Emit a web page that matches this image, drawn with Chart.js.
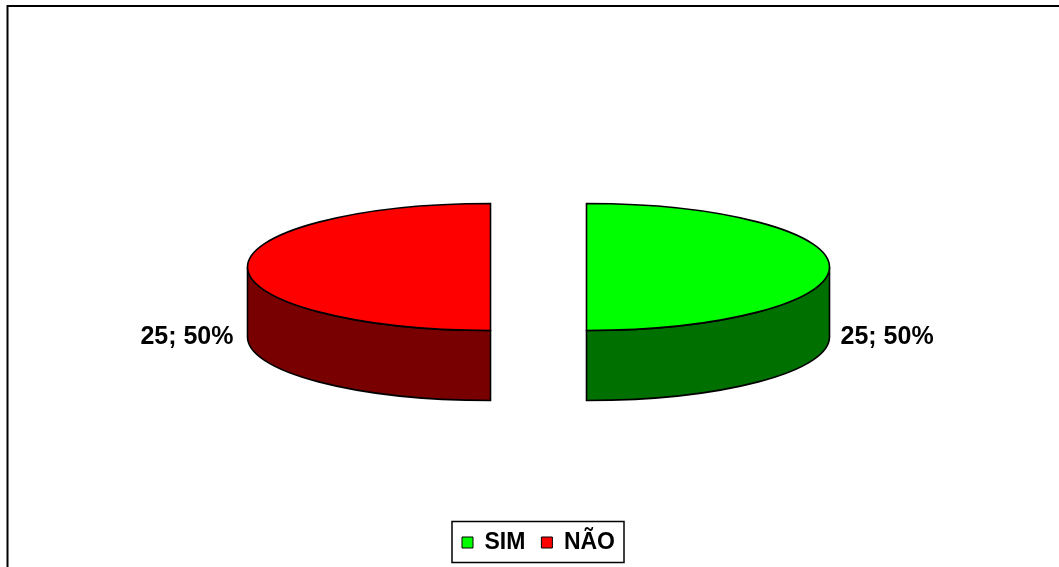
<!DOCTYPE html>
<html>
<head>
    <meta charset="utf-8">
    <title>SIM / NÃO</title>
    <script src="https://cdn.jsdelivr.net/npm/chart.js"></script>
    <style>
        body { margin: 0; background: #fff; }
        canvas { display: block; }
    </style>
</head>
<body>
    <canvas id="pieChart" width="1059" height="567"></canvas>
    <script>
        const categories = ['SIM', 'NÃO'];
        const counts = [25, 25];
        const topColors = ['#00ff00', '#ff0000'];
        const sideColors = ['#007000', '#780000'];

        // fake 3D: squash the pie vertically and extrude the front rim
        const tilt = 0.2613;
        const depth = 70;
        const explode = 48;
        const FONT = '"Liberation Sans", Arial, sans-serif';

        function arcGeometry(arc) {
            const p = arc.getProps(['x', 'y', 'startAngle', 'endAngle', 'outerRadius']);
            const mid = (p.startAngle + p.endAngle) / 2;
            const dx = Math.cos(mid) * explode;
            return {
                dx: dx,
                x: p.x + dx,
                y: p.y,
                cx: p.x,
                r: p.outerRadius,
                start: p.startAngle,
                end: p.endAngle,
                mid: mid
            };
        }

        const pie3d = {
            id: 'pie3d',
            beforeDatasetDraw(chart, args) {
                if (args.index !== 0) return;
                const ctx = chart.ctx;
                const meta = args.meta;
                const data = chart.data.datasets[0].data;
                const total = data.reduce((a, b) => a + b, 0);
                const geo = meta.data.map(arcGeometry);

                // front rim of every slice, only the part facing the viewer (0..PI)
                geo.forEach((g, i) => {
                    [-2 * Math.PI, 0, 2 * Math.PI].forEach(k => {
                        const t0 = Math.max(g.start + k, 0);
                        const t1 = Math.min(g.end + k, Math.PI);
                        if (t1 <= t0) return;
                        ctx.save();
                        ctx.beginPath();
                        ctx.ellipse(g.x, g.y, g.r, g.r * tilt, 0, t0, t1);
                        ctx.lineTo(g.x + Math.cos(t1) * g.r, g.y + Math.sin(t1) * g.r * tilt + depth);
                        ctx.ellipse(g.x, g.y + depth, g.r, g.r * tilt, 0, t1, t0, true);
                        ctx.closePath();
                        ctx.fillStyle = sideColors[i];
                        ctx.fill();
                        ctx.lineWidth = 1.6;
                        ctx.strokeStyle = '#000';
                        ctx.stroke();
                        ctx.restore();
                    });
                });

                // top faces: the library's own arcs, pulled apart and flattened
                meta.data.forEach((arc, i) => {
                    const g = geo[i];
                    ctx.save();
                    ctx.translate(g.x, g.y);
                    ctx.scale(1, tilt);
                    ctx.translate(-g.cx, -g.y);
                    arc.draw(ctx);
                    ctx.restore();
                });

                geo.forEach((g, i) => {
                    // outline of the top face
                    ctx.save();
                    ctx.beginPath();
                    ctx.moveTo(g.x, g.y);
                    ctx.ellipse(g.x, g.y, g.r, g.r * tilt, 0, g.start, g.end);
                    ctx.closePath();
                    ctx.lineWidth = 1.6;
                    ctx.strokeStyle = '#000';
                    ctx.stroke();

                    // value label beside the slice
                    const right = Math.cos(g.mid) >= 0;
                    ctx.font = 'bold 25px ' + FONT;
                    ctx.fillStyle = '#000';
                    ctx.textBaseline = 'middle';
                    ctx.textAlign = right ? 'left' : 'right';
                    const pct = Math.round(data[i] / total * 100);
                    const lx = right ? g.x + g.r + 11 : g.x - g.r - 14;
                    ctx.fillText(data[i] + '; ' + pct + '%', lx, g.y + depth);
                    ctx.restore();
                });
                return false;
            },
            afterDraw(chart) {
                const ctx = chart.ctx;
                ctx.save();
                ctx.strokeStyle = '#000';
                // frame around the legend
                const boxes = chart.legend.legendHitBoxes;
                if (boxes && boxes.length) {
                    const first = boxes[0];
                    const last = boxes[boxes.length - 1];
                    const midY = first.top + first.height / 2;
                    ctx.lineWidth = 1.5;
                    ctx.strokeRect(first.left - 10, midY - 21, last.left + last.width + 9 - (first.left - 10), 41);
                }
                // outer chart frame (top and left edges)
                ctx.lineWidth = 2;
                ctx.beginPath();
                ctx.moveTo(1059, 6);
                ctx.lineTo(7.5, 6);
                ctx.lineTo(7.5, 567);
                ctx.stroke();
                ctx.restore();
            }
        };

        const ctx = document.getElementById('pieChart').getContext('2d');
        const myChart = new Chart(ctx, {
            type: 'pie',
            data: {
                labels: categories,
                datasets: [{
                    data: counts,
                    backgroundColor: topColors,
                    borderWidth: 0,
                    radius: 243
                }]
            },
            options: {
                responsive: false,
                animation: false,
                events: [],
                layout: { padding: { left: 18, right: 0, top: 19, bottom: 3 } },
                plugins: {
                    tooltip: { enabled: false },
                    legend: {
                        position: 'bottom',
                        labels: {
                            boxWidth: 11,
                            boxHeight: 11,
                            padding: 16,
                            color: '#000',
                            font: { family: FONT, size: 23, weight: 'bold' },
                            generateLabels(chart) {
                                return categories.map((c, i) => ({
                                    text: c,
                                    fillStyle: topColors[i],
                                    strokeStyle: '#000',
                                    lineWidth: 1,
                                    index: i
                                }));
                            }
                        }
                    }
                }
            },
            plugins: [pie3d]
        });
    </script>
</body>
</html>
